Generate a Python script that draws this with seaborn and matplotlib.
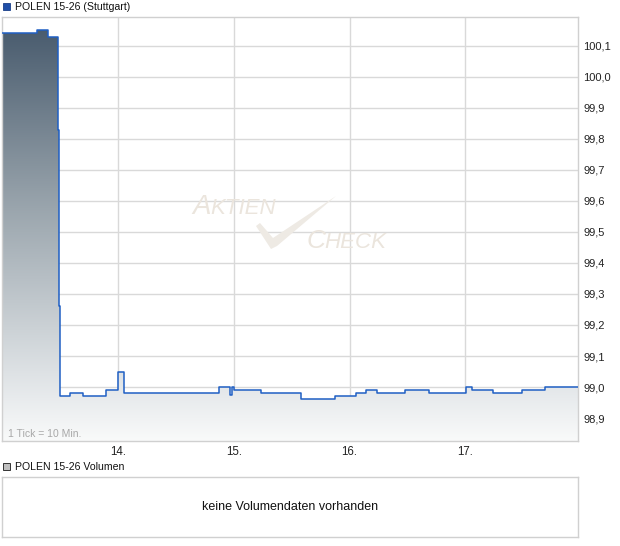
import numpy as np
import pandas as pd
import matplotlib
matplotlib.use("Agg")
import matplotlib.pyplot as plt
import seaborn as sns
from matplotlib.patches import Rectangle, Polygon
from matplotlib.colors import LinearSegmentedColormap
from matplotlib.ticker import FuncFormatter, FixedLocator

# ---- data ----
title = "POLEN 15-26 (Stuttgart)"
volume_title = "POLEN 15-26 Volumen"
no_volume_text = "keine Volumendaten vorhanden"
tick_note = "1 Tick = 10 Min."

# time in days (fractional), price steps
times = [13.00, 13.30, 13.40, 13.485, 13.492, 13.502, 13.585, 13.695, 13.894,
         14.004, 14.052, 14.872, 14.971, 14.989, 15.006, 15.235, 15.580,
         15.874, 16.055, 16.139, 16.234, 16.478, 16.683, 17.009, 17.054,
         17.236, 17.486, 17.687, 17.972]
prices = [100.14, 100.15, 100.13, 99.83, 99.26, 98.97, 98.98, 98.97, 98.99,
          99.05, 98.98, 99.00, 98.975, 99.00, 98.99, 98.98, 98.96,
          98.97, 98.98, 98.99, 98.98, 98.99, 98.98, 99.00, 98.99,
          98.98, 98.99, 99.00, 99.00]
x_ticks = [14, 15, 16, 17]
x_tick_labels = ["14.", "15.", "16.", "17."]
y_ticks = [98.9, 99.0, 99.1, 99.2, 99.3, 99.4, 99.5, 99.6, 99.7, 99.8, 99.9, 100.0, 100.1]

df = pd.DataFrame({"t": times, "p": prices})

sns.set_style("white")
plt.rcParams["font.family"] = ["Liberation Sans", "DejaVu Sans"]

W, H = 620, 546
fig = plt.figure(figsize=(W / 100, H / 100), dpi=100)
fig.patch.set_facecolor("white")

def fx(px):
    return px / W

def fy(py):
    return 1 - py / H

# main axes: px x 2..578, y 17..441
ax = fig.add_axes([fx(2), fy(441), (578 - 2) / W, (441 - 17) / H])
ymin, ymax = 98.826, 100.193
xmin, xmax = 13.0, 17.972
ax.set_xlim(xmin, xmax)
ax.set_ylim(ymin, ymax)

# grid
ax.set_axisbelow(True)
ax.yaxis.set_major_locator(FixedLocator(y_ticks))
ax.xaxis.set_major_locator(FixedLocator(x_ticks))
ax.grid(True, color="#d9d9d9", linewidth=1.0)

# gradient fill clipped to area under the line
poly = ax.fill_between(df["t"], df["p"], ymin, step="post", color="none", linewidth=0)
grad = np.linspace(0, 1, 256).reshape(-1, 1)
im = ax.imshow(grad, extent=[xmin, xmax, ymin, ymax], origin="lower", aspect="auto",
               cmap=LinearSegmentedColormap.from_list(
                   "g2", [(0, "#f9fafa"), (0.1, "#e8ebed"), (0.55, "#9aa5ad"), (1.0, "#44576a")]),
               zorder=1.5)
im.set_clip_path(poly.get_paths()[0], transform=ax.transData)

sns.lineplot(data=df, x="t", y="p", drawstyle="steps-post", color="#1f5fc4",
             linewidth=1.1, ax=ax, zorder=3)

ax.set_xlabel("")
ax.set_ylabel("")
ax.set_xticks(x_ticks)
ax.set_xticklabels(x_tick_labels)
ax.yaxis.tick_right()
ax.yaxis.set_major_formatter(FuncFormatter(lambda v, p: f"{v:.1f}".replace(".", ",")))
ax.tick_params(axis="y", length=0, pad=4, labelsize=8, labelcolor="#222222")
ax.tick_params(axis="x", length=3, color="#d0d0d0", pad=0.5, labelsize=8.3, labelcolor="#222222")
for s in ax.spines.values():
    s.set_visible(True)
    s.set_color("#d0d0d0")
    s.set_linewidth(1.0)

# tick note
fig.text(fx(8), fy(434), tick_note, fontsize=7.5, color="#a8a8a8", va="center", ha="left")

# watermark
wm = "#ebe5dd"
fig.text(fx(192), fy(214), "A", fontsize=20, style="italic", color=wm, va="baseline")
fig.text(fx(210), fy(214), "KTIEN", fontsize=16, style="italic", color=wm, va="baseline")
fig.text(fx(307), fy(248), "C", fontsize=19, style="italic", color=wm, va="baseline")
fig.text(fx(324), fy(248), "HECK", fontsize=16, style="italic", color=wm, va="baseline")
check = [(256, 226), (260, 223), (273, 238), (336, 196), (277, 246), (271, 249)]
fig.patches.append(Polygon([(fx(a), fy(b)) for a, b in check], closed=True,
                           transform=fig.transFigure, facecolor="#eeeae4", edgecolor="none", zorder=2))

# title with marker
fig.patches.append(Rectangle((fx(3), fy(10)), 7 / W, 7 / H, transform=fig.transFigure,
                             facecolor="#1f4fa8", edgecolor="#1a3f88", linewidth=0.6))
fig.text(fx(15), fy(6.5), title, fontsize=7.6, color="#111111", va="center", ha="left")

# volume panel
fig.patches.append(Rectangle((fx(3), fy(470)), 7 / W, 7 / H, transform=fig.transFigure,
                             facecolor="#c0c0c0", edgecolor="#333333", linewidth=0.7))
fig.text(fx(15), fy(467), volume_title, fontsize=7.6, color="#111111", va="center", ha="left")

vax = fig.add_axes([fx(2), fy(537), (578 - 2) / W, (537 - 477) / H])
vax.set_xticks([])
vax.set_yticks([])
for s in vax.spines.values():
    s.set_visible(True)
    s.set_color("#d0d0d0")
    s.set_linewidth(1.0)
vax.text(0.5, 0.5, no_volume_text, transform=vax.transAxes, ha="center", va="center",
         fontsize=9, color="#111111")

fig.savefig("out.png", dpi=100)
